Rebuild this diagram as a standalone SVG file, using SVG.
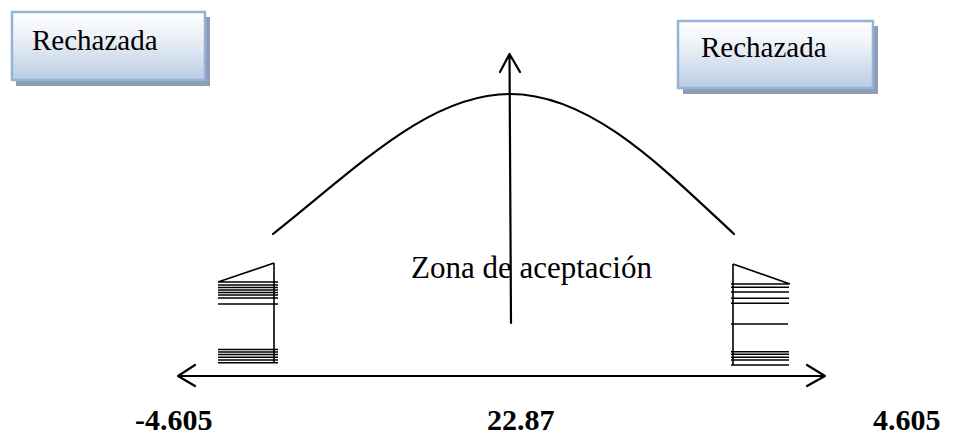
<svg xmlns="http://www.w3.org/2000/svg" width="953" height="437" viewBox="0 0 953 437">
<defs>
<linearGradient id="boxGrad" x1="0" y1="0" x2="0" y2="1">
<stop offset="0" stop-color="#ffffff"/>
<stop offset="0.35" stop-color="#eef2f8"/>
<stop offset="1" stop-color="#b9cce4"/>
</linearGradient>
<style>
.box{fill:url(#boxGrad);stroke:#95b3d7;stroke-width:2.5}
.shadow{fill:#8d9db5}
.lbl{font-family:"Liberation Serif","Times New Roman",serif;font-size:29px;fill:#000}
.num{font-family:"Liberation Serif","Times New Roman",serif;font-size:30px;font-weight:bold;fill:#000}
.ln{stroke:#000;stroke-width:2.2;fill:none;stroke-linecap:round;stroke-linejoin:round}
.h{stroke:#000;stroke-width:1.6;fill:none}
</style>
</defs>
<rect width="953" height="437" fill="#fff"/>
<g id="box-left">
<rect class="shadow" x="16" y="17" width="194" height="69"/>
<rect class="box" x="12" y="12" width="193" height="68"/>
<text class="lbl" x="32" y="50">Rechazada</text>
</g>
<g id="box-right">
<rect class="shadow" x="683" y="26" width="195" height="68"/>
<rect class="box" x="678" y="21" width="195" height="67"/>
<text class="lbl" x="701" y="57">Rechazada</text>
</g>
<g id="curve">
<path class="ln" d="M273,234 C360,165 430,94 510,94 C590,94 660,165 734,234" stroke-width="2"/>
</g>
<g id="hatch-left">
<path class="h" d="M218,282 L274,263 M274,263 L274,363 M218,282 H278 M218,285 H278 M218,287.5 H278 M218,290 H278 M218,292.5 H278 M218,295 H278 M218,298 H278 M218,304 H278 M218,349.5 H278 M218,352 H278 M218,354.5 H278 M218,357.3 H278 M218,360 H278 M218,362.7 H278"/>
</g>
<g id="hatch-right">
<path class="h" d="M733,264 L790,284 M733,264 L733,365 M731,284 H789 M731,287.3 H789 M731,292 H789 M731,298.3 H789 M731,303.3 H789 M731,324 H788 M731,351.7 H789 M731,354.3 H789 M731,357.3 H789 M731,360 H789 M731,365 H789"/>
</g>
<g id="zona">
<text class="lbl" x="411" y="278" style="font-size:31px">Zona de aceptación</text>
</g>
<g id="connectors">
<path class="ln" d="M178,376 H825 M195,365 L178,376 L195,386 M807,365 L825,376 L807,386"/>
<path class="ln" d="M511,323 L509.5,54 M500,72 L509.5,54 L520,72"/>
</g>
<g id="values">
<text class="num" x="135" y="430">-4.605</text>
<text class="num" x="487" y="430">22.87</text>
<text class="num" x="873" y="430">4.605</text>
</g>
</svg>
